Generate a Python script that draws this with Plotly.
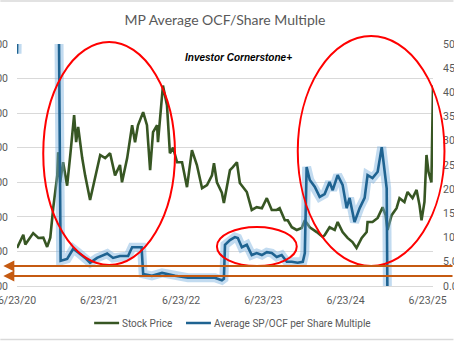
import plotly.graph_objects as go

# ---------------- data ----------------
price_dates = ["2020-06-23","2020-07-21","2020-07-30","2020-09-03","2020-09-26","2020-10-18","2020-11-04","2020-11-18",
    "2020-12-01","2020-12-19","2020-12-23","2021-01-01","2021-01-14","2021-02-01","2021-02-15","2021-03-04","2021-03-13",
    "2021-03-22","2021-04-09","2021-04-22","2021-05-14","2021-06-05","2021-06-28","2021-07-20","2021-08-11","2021-09-02",
    "2021-09-24","2021-10-03","2021-10-26","2021-11-17","2021-11-30","2021-12-13","2022-01-05","2022-01-22","2022-02-05",
    "2022-02-18","2022-03-08","2022-03-12","2022-04-03","2022-04-21","2022-05-04","2022-05-18","2022-06-05","2022-06-27",
    "2022-07-19","2022-08-10","2022-09-01","2022-09-24","2022-10-16","2022-11-07","2022-11-16","2022-11-29","2022-12-21",
    "2022-12-30","2023-01-26","2023-02-08","2023-02-26","2023-03-11","2023-03-24","2023-04-11","2023-05-03","2023-05-25",
    "2023-06-17","2023-07-09","2023-07-31","2023-08-22","2023-09-04","2023-09-27","2023-10-10","2023-10-28","2023-11-19",
    "2023-12-11","2023-12-25","2024-01-16","2024-02-16","2024-03-13","2024-03-22","2024-04-13","2024-05-06","2024-05-19",
    "2024-06-10","2024-07-02","2024-07-24","2024-08-11","2024-09-03","2024-09-25","2024-09-29","2024-10-21","2024-11-13",
    "2024-12-05","2024-12-18","2024-12-27","2025-01-14","2025-02-05","2025-02-18","2025-03-12","2025-03-26","2025-04-17",
    "2025-05-05","2025-05-18","2025-05-27","2025-06-09","2025-06-18","2025-06-27","2025-07-10","2025-07-15","2025-07-17"]
price_values = [11.0,14.8,12.0,15.3,13.9,14.0,11.3,14.0,
    22.5,32.0,38.7,30.0,35.8,29.0,37.9,49.4,41.6,
    46.0,37.0,32.0,24.9,31.2,37.9,37.0,38.4,32.0,
    35.0,30.0,37.0,46.5,41.6,46.5,50.3,46.5,33.5,
    44.5,46.5,41.6,58.0,52.3,38.4,40.0,35.8,35.8,
    28.6,39.3,35.0,28.3,29.2,32.0,35.5,30.0,27.0,
    24.0,33.5,34.4,35.8,29.8,28.6,27.2,22.0,22.8,
    22.5,25.4,22.0,22.0,22.5,19.0,19.0,17.0,16.2,
    16.8,19.0,17.0,15.6,14.2,14.7,17.0,16.2,18.5,
    15.6,13.9,12.7,11.0,13.9,15.6,18.5,18.5,19.7,
    22.8,20.5,16.2,20.5,22.5,25.4,24.3,27.2,25.4,
    27.8,23.4,19.0,24.3,37.9,33.0,30.0,51.4,58.0]

multiple_dates = ["2020-06-23","2020-07-02","2020-12-23","2021-01-03","2021-02-01","2021-02-28","2021-03-22","2021-04-22",
    "2021-05-14","2021-06-14","2021-07-29","2021-08-24","2021-09-24","2021-10-30","2021-11-17","2021-12-29","2022-01-05",
    "2022-02-13","2022-03-30","2022-05-27","2022-07-23","2022-09-24","2022-11-20","2022-12-21","2022-12-30","2023-01-04",
    "2023-01-26","2023-02-17","2023-03-02","2023-03-20","2023-04-11","2023-05-03","2023-05-25","2023-06-17","2023-07-09",
    "2023-07-31","2023-08-22","2023-09-13","2023-10-06","2023-10-28","2023-11-23","2023-12-16","2023-12-25","2024-01-02",
    "2024-01-16","2024-02-07","2024-02-29","2024-03-22","2024-04-13","2024-04-27","2024-05-19","2024-06-10","2024-06-28",
    "2024-07-11","2024-08-02","2024-08-25","2024-09-16","2024-09-29","2024-10-21","2024-11-13","2024-12-01","2024-12-09",
    "2024-12-23","2024-12-29","2025-07-17"]
multiple_values = [48.0,75.0,75.0,5.2,5.6,7.7,6.9,5.8,
    4.8,5.8,6.7,5.8,6.2,6.2,8.0,8.0,2.5,
    2.1,2.7,2.1,1.7,1.7,1.7,1.2,1.5,8.5,
    9.5,10.1,9.9,8.0,8.5,6.4,6.8,6.4,7.0,
    6.8,6.0,6.4,5.0,5.0,4.8,5.0,6.8,24.6,
    21.9,20.5,18.4,19.0,21.5,19.8,22.9,20.9,16.1,
    18.2,13.2,16.1,18.2,22.9,22.3,23.6,28.7,25.6,
    20.2,-20.0,-20.0]

x_tick_dates = ["2020-06-23","2021-06-23","2022-06-23","2023-06-23","2024-06-23","2025-06-23"]
x_tick_labels = ["6/23/20","6/23/21","6/23/22","6/23/23","6/23/24","6/23/25"]
left_ticks = [0, 10, 20, 30, 40, 50, 60, 70]
right_ticks = [0, 5, 10, 15, 20, 25, 30, 35, 40, 45, 50]

title_text = "MP Average OCF/Share Multiple"
note_text = "Investor Cornerstone+"
price_name = "Stock Price"
multiple_name = "Average SP/OCF per Share Multiple"

# ---------------- layout helpers (pixel -> paper) ----------------
W, H = 454, 341
PL, PR, PT, PB = 16.7, 433.5, 44.0, 286.0
def px(x):
    return (x - PL) / (PR - PL)
def py(y):
    return (PB - y) / (PB - PT)

GREEN = "#375623"
BLUE = "#1F6391"
GLOW = "rgba(120,175,222,0.45)"
GRAY = "#595959"
GRID = "#D9D9D9"
RED = "#FF0000"
ORANGE = "#C55A11"
FONT = "Roboto, sans-serif"

fig = go.Figure()
fig.add_trace(go.Scatter(x=price_dates, y=price_values, mode="lines", name=price_name,
                         line=dict(color=GREEN, width=2.6), showlegend=False, yaxis="y"))
fig.add_trace(go.Scatter(x=multiple_dates, y=multiple_values, mode="lines", name=multiple_name + " glow",
                         line=dict(color=GLOW, width=9), showlegend=False, yaxis="y2", hoverinfo="skip"))
fig.add_trace(go.Scatter(x=multiple_dates, y=multiple_values, mode="lines", name=multiple_name,
                         line=dict(color=BLUE, width=2.6), showlegend=False, yaxis="y2"))

shapes = []
# red ellipses
for (x0, y0, x1, y1) in [(43, 42, 175, 265), (217, 227, 297, 266), (298, 36, 445, 266)]:
    shapes.append(dict(type="circle", xref="paper", yref="paper", x0=px(x0), x1=px(x1), y0=py(y1), y1=py(y0),
                       line=dict(color=RED, width=2), layer="above"))
# chart border lines (top / bottom)
for yy in (1, 339.5):
    shapes.append(dict(type="line", xref="paper", yref="paper", x0=px(0), x1=px(W), y0=py(yy), y1=py(yy),
                       line=dict(color=GRID, width=1.5)))
# custom legend samples
shapes.append(dict(type="line", xref="paper", yref="paper", x0=px(94), x1=px(119), y0=py(323), y1=py(323),
                   line=dict(color=GREEN, width=2.5)))
shapes.append(dict(type="line", xref="paper", yref="paper", x0=px(186), x1=px(211), y0=py(323), y1=py(323),
                   line=dict(color=BLUE, width=2.5)))

annotations = [
    dict(text="<b><i>" + note_text + "</i></b>", xref="paper", yref="paper", x=px(239), y=py(57), showarrow=False,
         font=dict(family="Liberation Sans, Arial, sans-serif", size=10, color="black"),
         xanchor="center", yanchor="middle"),
    dict(text=price_name, xref="paper", yref="paper", x=px(120), y=py(323), showarrow=False,
         font=dict(family=FONT, size=10, color=GRAY), xanchor="left", yanchor="middle"),
    dict(text=multiple_name, xref="paper", yref="paper", x=px(212), y=py(323), showarrow=False,
         font=dict(family=FONT, size=10, color=GRAY), xanchor="left", yanchor="middle"),
]
# orange arrows pointing left
for yy in (266, 276):
    annotations.append(dict(text="", xref="paper", yref="paper", x=px(3), y=py(yy), ax=470, ay=0,
                            showarrow=True, arrowhead=2, arrowsize=1.1, arrowwidth=2, arrowcolor=ORANGE,
                            axref="pixel", ayref="pixel"))

tickfont = dict(family=FONT, size=10.5, color=GRAY)
fig.update_layout(
    width=W, height=H,
    margin=dict(l=PL, r=W - PR, t=PT, b=H - PB, autoexpand=False),
    paper_bgcolor="white", plot_bgcolor="white",
    title=dict(text=title_text, x=0.5, xref="paper", xanchor="center", y=1 - 20 / H, yanchor="middle",
               font=dict(family="Lato, Roboto, sans-serif", size=14, color=GRAY)),
    font=dict(family=FONT, size=10.5, color=GRAY),
    showlegend=False,
    xaxis=dict(type="date", range=["2020-06-23", "2025-07-17"], tickvals=x_tick_dates, ticktext=x_tick_labels,
               showgrid=False, showline=False, zeroline=False, ticks="", ticklabelstandoff=6,
               ticklabeloverflow="allow", tickfont=tickfont, automargin=False),
    yaxis=dict(range=[0, 70], tickvals=left_ticks, tickprefix="$", tickformat=".2f", showgrid=True,
               gridcolor=GRID, gridwidth=1, zeroline=True, zerolinecolor=GRID, zerolinewidth=1, showline=False,
               ticks="", ticklabelstandoff=8, ticklabeloverflow="allow", tickfont=tickfont, automargin=False),
    yaxis2=dict(range=[0, 50], tickvals=right_ticks, tickformat=".2f", overlaying="y", side="right",
                showgrid=False, zeroline=False, showline=False, ticks="", ticklabelstandoff=9,
                ticklabeloverflow="allow", tickfont=tickfont, automargin=False),
    shapes=shapes, annotations=annotations,
)

fig.write_html("out.html")
